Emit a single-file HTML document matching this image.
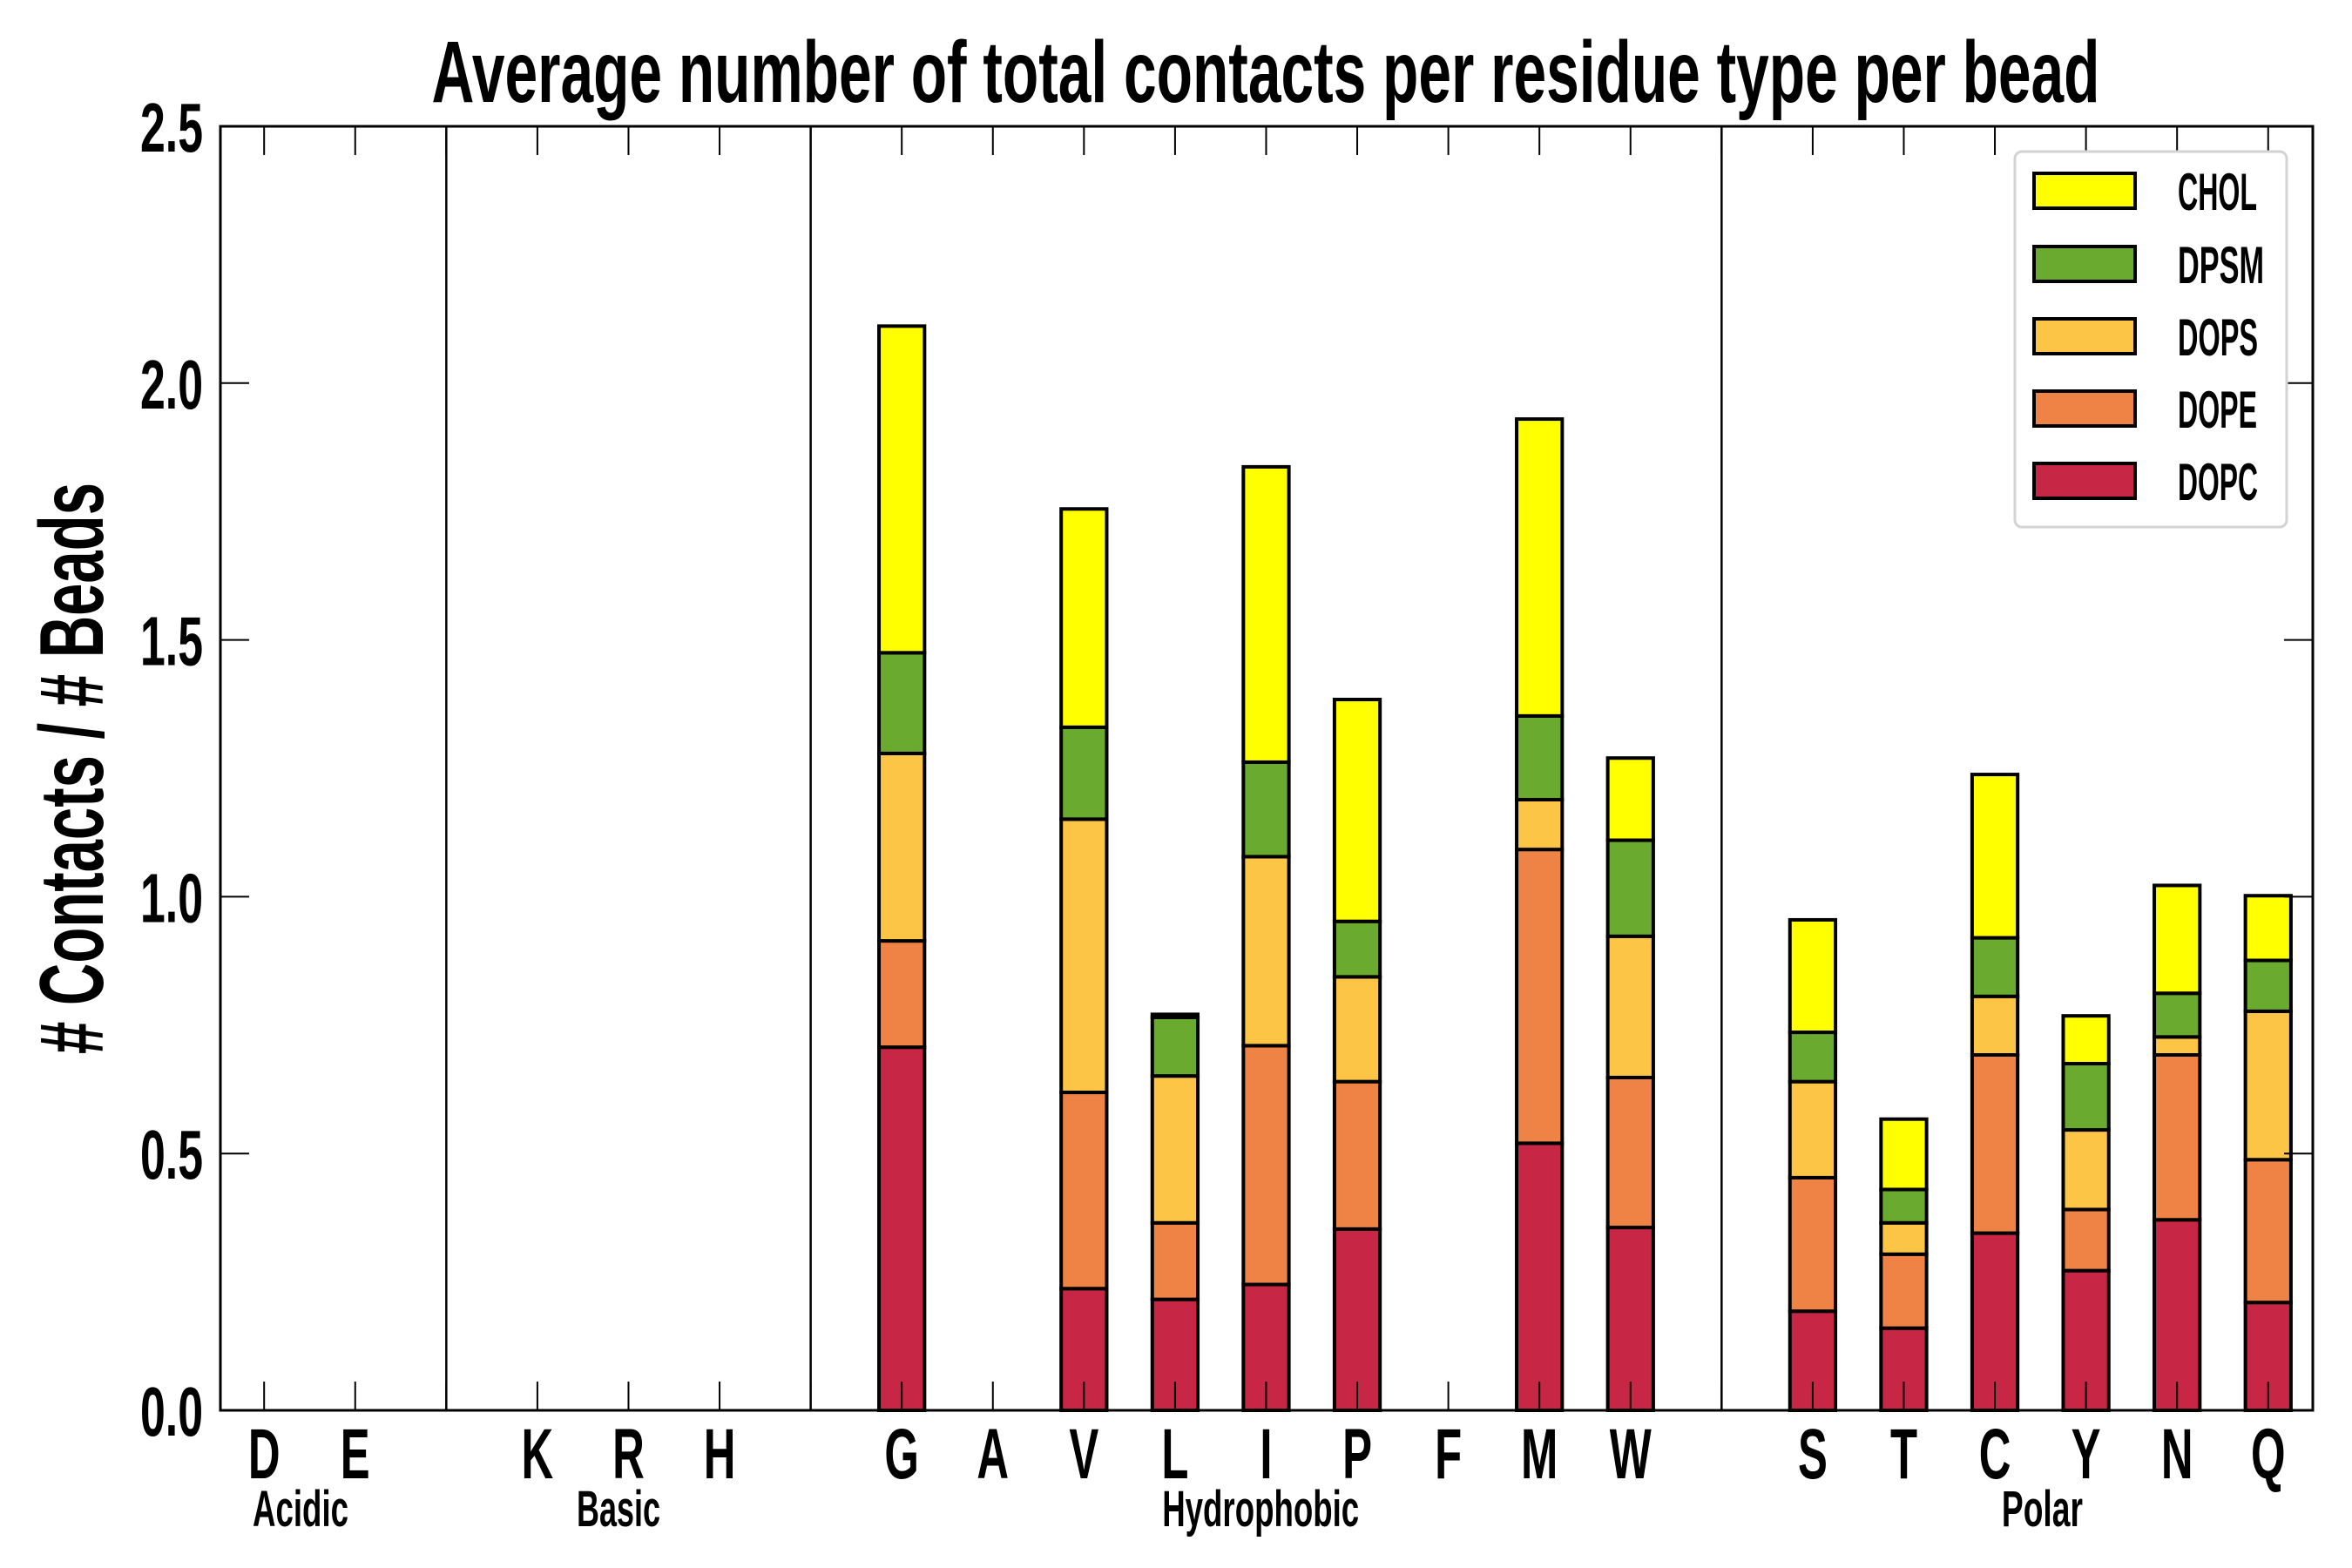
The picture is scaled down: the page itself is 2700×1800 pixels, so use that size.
<!DOCTYPE html>
<html><head><meta charset="utf-8"><style>
html,body{margin:0;padding:0;background:#fff;}
svg{display:block;}
text{font-family:"Liberation Sans Narrow","Liberation Sans",sans-serif;font-weight:bold;fill:#000;}
</style></head><body>
<svg id="chart" width="2700" height="1800" viewBox="0 0 2700 1800" xmlns="http://www.w3.org/2000/svg">
<rect x="0" y="0" width="2700" height="1800" fill="#fff"/>
<text x="1453" y="117" font-size="100" text-anchor="middle" textLength="1915" lengthAdjust="spacingAndGlyphs">Average number of total contacts per residue type per bead</text>
<text transform="translate(118,882) rotate(-90)" font-size="104" text-anchor="middle" textLength="656" lengthAdjust="spacingAndGlyphs"># Contacts / # Beads</text>
<g id="bars"></g>
<g id="axes"></g>
<g id="legend"></g>
</svg>
<script>
const categories = ["D","E","","K","R","H","","G","A","V","L","I","P","F","M","W","","S","T","C","Y","N","Q"];
const seriesNames = ["DOPC","DOPE","DOPS","DPSM","CHOL"];
const DOPC = [0,0,0,0,0,0,0,0.707,0,0.237,0.216,0.245,0.353,0,0.520,0.356,0,0.193,0.160,0.345,0.272,0.371,0.210];
const DOPE = [0,0,0,0,0,0,0,0.207,0,0.382,0.149,0.465,0.287,0,0.572,0.292,0,0.260,0.144,0.347,0.119,0.321,0.278];
const DOPS = [0,0,0,0,0,0,0,0.365,0,0.532,0.286,0.368,0.204,0,0.097,0.275,0,0.187,0.061,0.114,0.155,0.035,0.289];
const DPSM = [0,0,0,0,0,0,0,0.196,0,0.179,0.114,0.184,0.108,0,0.163,0.187,0,0.096,0.065,0.114,0.129,0.085,0.099];
const CHOL = [0,0,0,0,0,0,0,0.636,0,0.425,0.006,0.575,0.432,0,0.578,0.160,0,0.219,0.137,0.318,0.093,0.210,0.126];
const yTicks = [0.0,0.5,1.0,1.5,2.0,2.5];
const yTickLabels = ["0.0","0.5","1.0","1.5","2.0","2.5"];
const separators = [2,6,16];
const groupNames = ["Acidic","Basic","Hydrophobic","Polar"];
const groupCenters = [0.4,3.89,10.94,19.52];
const groupWidths = [110,96,226,93];

const NS="http://www.w3.org/2000/svg";
const L=253,R=2655,T=145,B=1619;
const xMin=-0.48,xMax=22.49,yMax=2.5;
function xs(i){return L+(i-xMin)/(xMax-xMin)*(R-L);}
function ys(v){return B-v/yMax*(B-T);}
function mk(tag,attrs,parent){const e=document.createElementNS(NS,tag);for(const k in attrs)e.setAttribute(k,attrs[k]);parent.appendChild(e);return e;}
const colors={DOPC:"#c72744",DOPE:"#ef8245",DOPS:"#fcc545",DPSM:"#6aaa2e",CHOL:"#ffff00"};
const data={DOPC,DOPE,DOPS,DPSM,CHOL};
const bars=document.getElementById('bars'),axes=document.getElementById('axes'),leg=document.getElementById('legend');
const bw=(xs(1)-xs(0))*0.5;

separators.forEach(s=>{const ln=mk('line',{x1:xs(s),x2:xs(s),y1:T,y2:B,stroke:"#000","stroke-width":2.5},axes);

});

categories.forEach((c,i)=>{
  let base=0;
  seriesNames.forEach(sn=>{
    const v=data[sn][i];
    const r=mk('rect',{x:xs(i)-bw/2,y:ys(base+v),width:bw,height:Math.max(ys(base)-ys(base+v),0.01),fill:colors[sn],stroke:"#000","stroke-width":v>0?4:1.5},bars);
    
    
    base+=v;
  });
  const t1=mk('line',{x1:xs(i),x2:xs(i),y1:B,y2:B-33,stroke:"#000","stroke-width":2},axes);
  
  
  const t2=mk('line',{x1:xs(i),x2:xs(i),y1:T,y2:T+33,stroke:"#000","stroke-width":2},axes);
  
  
  if(c){const tx=mk('text',{transform:"translate("+xs(i)+",1697) scale(0.62,1)","font-size":82,"text-anchor":"middle"},axes);tx.textContent=c;
    
    }
});
yTicks.forEach((v,k)=>{
  const a=mk('line',{x1:L,x2:L+33,y1:ys(v),y2:ys(v),stroke:"#000","stroke-width":2},axes);
  
  
  const b=mk('line',{x1:R,x2:R-33,y1:ys(v),y2:ys(v),stroke:"#000","stroke-width":2},axes);
  
  
  const tx=mk('text',{x:233,y:ys(v)+29,"font-size":80,"text-anchor":"end",textLength:72,lengthAdjust:"spacingAndGlyphs"},axes);
  tx.textContent=yTickLabels[k];
  
  
});
groupNames.forEach((g,k)=>{
  const tx=mk('text',{x:xs(groupCenters[k]),y:1752,"font-size":58,"text-anchor":"middle",textLength:groupWidths[k],lengthAdjust:"spacingAndGlyphs"},axes);
  tx.textContent=g;
  
  
});
const fr=mk('rect',{x:L,y:T,width:R-L,height:B-T,fill:"none",stroke:"#000","stroke-width":3},axes);



const lb=mk('rect',{x:2313,y:174,width:312,height:431,rx:8,fill:"#fff",stroke:"#d3d3d3","stroke-width":3},leg);


const legOrder=["CHOL","DPSM","DOPS","DOPE","DOPC"];
const legY=[219,303,386,469,552];
const legW=[91,99,92,91,92];
legOrder.forEach((sn,k)=>{
  const sw=mk('rect',{x:2335,y:legY[k]-20,width:116,height:40,fill:colors[sn],stroke:"#000","stroke-width":4},leg);
  
  
  const tx=mk('text',{x:2500,y:legY[k]+22,"font-size":60,textLength:legW[k],lengthAdjust:"spacingAndGlyphs"},leg);
  tx.textContent=sn;
  
  
});
</script>
</body></html>
